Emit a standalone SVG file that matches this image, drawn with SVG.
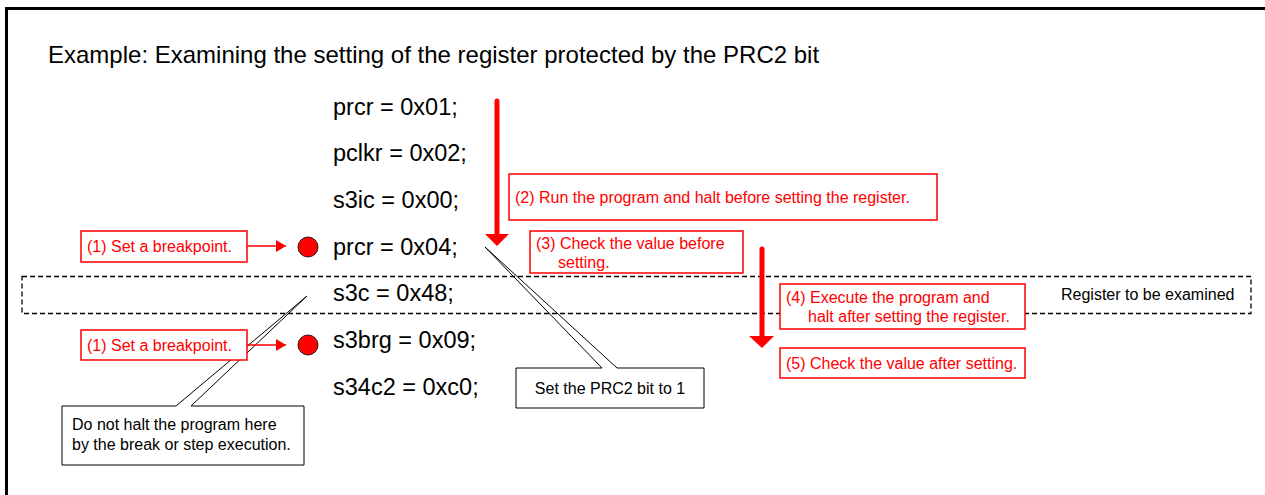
<svg xmlns="http://www.w3.org/2000/svg" width="1265" height="495" viewBox="0 0 1265 495">
<style>
.t{font-family:"Liberation Sans",Arial,sans-serif;}
.title{font-size:24px;fill:#000;}
.code{font-size:23.5px;fill:#000;}
.red{font-size:16px;fill:#ff0000;}
.blk{font-size:16px;fill:#000;}
.rbox{fill:#fff;stroke:#ff0000;stroke-width:1.5;}
.call{fill:#fff;stroke:#000;stroke-width:1;}
</style>
<defs>
<marker id="ah" markerWidth="10" markerHeight="12" refX="10" refY="6" orient="auto" markerUnits="userSpaceOnUse">
<path d="M0,0 L10,6 L0,12 Z" fill="#ff0000"/>
</marker>
</defs>
<rect x="0" y="0" width="1265" height="495" fill="#fff"/>
<rect id="frame" x="6.5" y="8.5" width="1300" height="520" fill="none" stroke="#000" stroke-width="3"/>
<g id="title"><text class="t title" x="48" y="63">Example: Examining the setting of the register protected by the PRC2 bit</text></g>

<g id="callout-prc2">
<path class="call" d="M516,368 L602,368 L485,247 L617,368 L704,368 L704,408 L516,408 Z"/>
<text class="t blk" x="610" y="394" text-anchor="middle">Set the PRC2 bit to 1</text>
</g>
<g id="callout-nohalt">
<path class="call" d="M62,406 L176,406 L307,296 L191,406 L304,406 L304,465 L62,465 Z"/>
<text class="t blk" x="72" y="430">Do not halt the program here</text>
<text class="t blk" x="72" y="450">by the break or step execution.</text>
</g>

<g id="register-zone">
<rect x="22" y="276.5" width="1229" height="37" fill="none" stroke="#000" stroke-width="1.3" stroke-dasharray="5,3"/>
<text class="t blk" x="1061" y="300">Register to be examined</text>
</g>

<g id="code">
<text class="t code" x="333" y="115">prcr = 0x01;</text>
<text class="t code" x="333" y="161">pclkr = 0x02;</text>
<text class="t code" x="333" y="208">s3ic = 0x00;</text>
<text class="t code" x="333" y="255">prcr = 0x04;</text>
<text class="t code" x="333" y="301">s3c = 0x48;</text>
<text class="t code" x="333" y="348">s3brg = 0x09;</text>
<text class="t code" x="333" y="395">s34c2 = 0xc0;</text>
</g>

<g id="bp1">
<rect class="rbox" x="81" y="231" width="166" height="31"/>
<text class="t red" x="87" y="252">(1) Set a breakpoint.</text>
<circle cx="308" cy="247" r="10" fill="#ff0000" stroke="#000" stroke-width="0.8"/>
</g>
<g id="bp2">
<rect class="rbox" x="81" y="330" width="166" height="30"/>
<text class="t red" x="87" y="351">(1) Set a breakpoint.</text>
<circle cx="308" cy="345" r="10" fill="#ff0000" stroke="#000" stroke-width="0.8"/>
</g>

<g id="step2">
<rect class="rbox" x="509" y="174" width="428" height="46"/>
<text class="t red" x="515" y="203">(2) Run the program and halt before setting the register.</text>
</g>
<g id="step3">
<rect class="rbox" x="530" y="231" width="213" height="42"/>
<text class="t red" x="536" y="249">(3) Check the value before</text>
<text class="t red" x="558" y="268">setting.</text>
</g>
<g id="step4">
<rect class="rbox" x="780" y="284" width="245" height="45"/>
<text class="t red" x="786" y="303">(4) Execute the program and</text>
<text class="t red" x="808" y="322">halt after setting the register.</text>
</g>
<g id="step5">
<rect class="rbox" x="780" y="348" width="245" height="30"/>
<text class="t red" x="786" y="369">(5) Check the value after setting.</text>
</g>

<g id="connectors">
<line x1="247" y1="246" x2="286" y2="246" stroke="#ff0000" stroke-width="1.5" marker-end="url(#ah)"/>
<line x1="247" y1="345" x2="286" y2="345" stroke="#ff0000" stroke-width="1.5" marker-end="url(#ah)"/>
<line x1="497" y1="101" x2="497" y2="236" stroke="#ff0000" stroke-width="5" stroke-linecap="round"/>
<path d="M485,234 L509,234 L497,246 Z" fill="#ff0000"/>
<line x1="762" y1="249" x2="762" y2="338" stroke="#ff0000" stroke-width="5" stroke-linecap="round"/>
<path d="M749,336 L774,336 L762,348 Z" fill="#ff0000"/>
</g>
</svg>
